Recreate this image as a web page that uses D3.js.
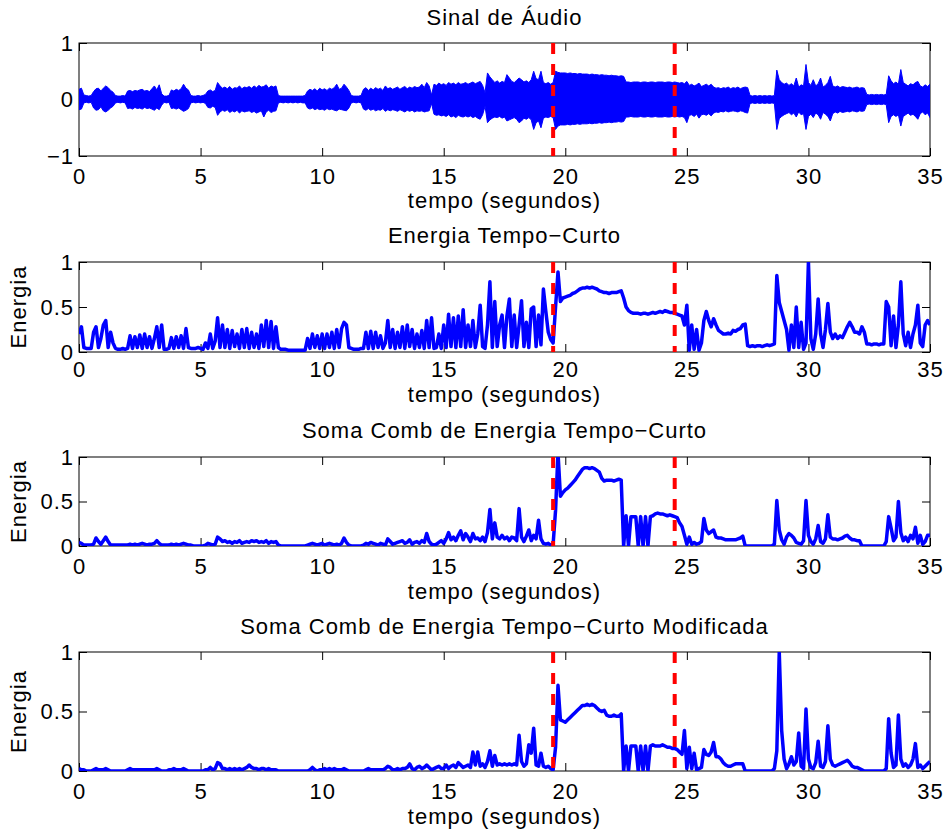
<!DOCTYPE html>
<html>
<head>
<meta charset="utf-8">
<script src="https://cdn.jsdelivr.net/npm/d3@7/dist/d3.min.js"></script>
<style>
  html, body { margin: 0; padding: 0; background: #fff; }
  svg text { font-family: "Liberation Sans", Arial, Helvetica, sans-serif; fill: #000; }
</style>
</head>
<body>
<svg id="chart" width="946" height="832"></svg>
<script>
// ---------------- DATA ----------------
const xTicks = [0, 5, 10, 15, 20, 25, 30, 35];
const yTicksAudio = [-1, 0, 1];
const yTicksEnergy = [0, 0.5, 1];
const markerTimes = [19.5, 24.5];
const titles = [
  "Sinal de Áudio",
  "Energia Tempo\u2212Curto",
  "Soma Comb de Energia Tempo\u2212Curto",
  "Soma Comb de Energia Tempo\u2212Curto Modificada"
];
const xLabel = "tempo (segundos)";
const yLabel = "Energia";

// all series sampled every 0.1 s from 0 to 35 s
const sampleStep = 0.1;

// audio signal envelope: upper and lower amplitude
const audioHi = [
0.18,0.20,0.08,0.07,0.06,0.07,0.14,0.19,0.20,0.15,
0.20,0.24,0.21,0.16,0.13,0.07,0.06,0.06,0.07,0.06,
0.15,0.16,0.14,0.16,0.15,0.17,0.18,0.15,0.16,0.14,
0.19,0.24,0.17,0.26,0.10,0.06,0.06,0.07,0.17,0.15,
0.18,0.16,0.19,0.27,0.20,0.17,0.07,0.06,0.06,0.07,
0.06,0.07,0.09,0.15,0.17,0.14,0.16,0.30,0.24,0.20,
0.22,0.19,0.23,0.18,0.21,0.20,0.24,0.19,0.22,0.21,
0.23,0.20,0.24,0.21,0.25,0.22,0.23,0.26,0.20,0.24,
0.22,0.24,0.07,0.06,0.06,0.06,0.06,0.06,0.06,0.06,
0.06,0.06,0.06,0.07,0.15,0.18,0.16,0.19,0.15,0.20,
0.17,0.19,0.16,0.20,0.18,0.21,0.27,0.18,0.20,0.27,
0.22,0.16,0.07,0.06,0.06,0.06,0.07,0.18,0.21,0.16,
0.20,0.17,0.21,0.18,0.20,0.16,0.24,0.19,0.21,0.18,
0.20,0.22,0.18,0.21,0.23,0.19,0.22,0.20,0.23,0.21,
0.22,0.27,0.21,0.30,0.24,0.08,0.27,0.25,0.29,0.26,
0.28,0.25,0.30,0.27,0.29,0.26,0.30,0.27,0.28,0.30,
0.27,0.29,0.31,0.28,0.30,0.32,0.25,0.12,0.47,0.40,
0.35,0.30,0.33,0.29,0.32,0.30,0.44,0.38,0.32,0.30,
0.34,0.38,0.35,0.31,0.33,0.30,0.35,0.50,0.37,0.35,
0.50,0.30,0.28,0.30,0.27,0.30,0.50,0.48,0.47,0.47,
0.47,0.46,0.47,0.46,0.46,0.45,0.46,0.45,0.45,0.45,
0.44,0.45,0.44,0.44,0.43,0.44,0.43,0.43,0.42,0.43,
0.42,0.42,0.41,0.42,0.41,0.31,0.31,0.30,0.31,0.31,
0.31,0.30,0.31,0.31,0.30,0.31,0.31,0.30,0.31,0.31,
0.31,0.30,0.31,0.31,0.30,0.31,0.30,0.29,0.30,0.28,
0.32,0.25,0.27,0.24,0.26,0.29,0.23,0.25,0.27,0.24,
0.27,0.22,0.20,0.21,0.19,0.21,0.20,0.22,0.19,0.21,
0.20,0.22,0.19,0.21,0.22,0.21,0.07,0.06,0.07,0.06,
0.07,0.06,0.07,0.06,0.07,0.06,0.07,0.52,0.35,0.30,
0.27,0.29,0.25,0.28,0.24,0.38,0.22,0.26,0.24,0.62,
0.30,0.25,0.35,0.24,0.28,0.38,0.22,0.25,0.30,0.41,
0.24,0.22,0.24,0.21,0.23,0.22,0.21,0.22,0.20,0.21,
0.22,0.20,0.21,0.20,0.09,0.08,0.09,0.08,0.09,0.08,
0.09,0.08,0.09,0.42,0.33,0.28,0.31,0.27,0.53,0.30,
0.27,0.24,0.28,0.26,0.30,0.32,0.24,0.22,0.26,0.23,
0.27];
const audioLo = [
-0.18,-0.17,-0.06,-0.05,-0.06,-0.05,-0.15,-0.19,-0.18,-0.13,
-0.20,-0.22,-0.19,-0.15,-0.12,-0.06,-0.05,-0.06,-0.05,-0.06,
-0.16,-0.15,-0.17,-0.14,-0.16,-0.15,-0.17,-0.14,-0.16,-0.15,
-0.17,-0.19,-0.15,-0.18,-0.10,-0.05,-0.06,-0.05,-0.16,-0.15,
-0.17,-0.15,-0.18,-0.21,-0.19,-0.16,-0.06,-0.05,-0.06,-0.05,
-0.06,-0.05,-0.07,-0.14,-0.15,-0.12,-0.14,-0.28,-0.22,-0.19,
-0.21,-0.18,-0.23,-0.20,-0.22,-0.19,-0.24,-0.20,-0.22,-0.21,
-0.20,-0.23,-0.21,-0.24,-0.22,-0.20,-0.31,-0.22,-0.19,-0.23,
-0.21,-0.20,-0.06,-0.05,-0.06,-0.05,-0.06,-0.05,-0.06,-0.05,
-0.06,-0.05,-0.06,-0.06,-0.15,-0.17,-0.15,-0.18,-0.16,-0.18,
-0.17,-0.19,-0.16,-0.18,-0.17,-0.19,-0.20,-0.17,-0.18,-0.19,
-0.20,-0.15,-0.06,-0.05,-0.06,-0.05,-0.06,-0.17,-0.19,-0.16,
-0.19,-0.17,-0.20,-0.18,-0.19,-0.16,-0.21,-0.18,-0.20,-0.18,
-0.19,-0.21,-0.18,-0.20,-0.22,-0.19,-0.21,-0.19,-0.22,-0.20,
-0.21,-0.20,-0.22,-0.21,-0.20,-0.07,-0.26,-0.28,-0.27,-0.29,
-0.28,-0.30,-0.27,-0.31,-0.29,-0.32,-0.28,-0.30,-0.31,-0.29,
-0.31,-0.29,-0.32,-0.30,-0.33,-0.35,-0.27,-0.12,-0.41,-0.36,
-0.33,-0.31,-0.32,-0.30,-0.33,-0.31,-0.38,-0.36,-0.34,-0.32,
-0.35,-0.41,-0.38,-0.33,-0.35,-0.32,-0.36,-0.53,-0.41,-0.38,
-0.50,-0.33,-0.31,-0.32,-0.30,-0.32,-0.53,-0.47,-0.45,-0.45,
-0.45,-0.44,-0.45,-0.44,-0.44,-0.43,-0.44,-0.43,-0.43,-0.43,
-0.42,-0.43,-0.42,-0.42,-0.41,-0.42,-0.41,-0.41,-0.40,-0.41,
-0.40,-0.40,-0.39,-0.40,-0.39,-0.31,-0.31,-0.30,-0.31,-0.31,
-0.31,-0.30,-0.31,-0.31,-0.30,-0.31,-0.31,-0.30,-0.31,-0.31,
-0.31,-0.30,-0.31,-0.31,-0.30,-0.31,-0.30,-0.31,-0.30,-0.32,
-0.41,-0.28,-0.27,-0.30,-0.26,-0.33,-0.27,-0.26,-0.28,-0.25,
-0.29,-0.24,-0.22,-0.23,-0.21,-0.22,-0.20,-0.22,-0.21,-0.20,
-0.21,-0.22,-0.20,-0.21,-0.23,-0.24,-0.07,-0.06,-0.07,-0.06,
-0.07,-0.06,-0.07,-0.06,-0.07,-0.06,-0.07,-0.53,-0.34,-0.30,
-0.27,-0.25,-0.23,-0.27,-0.24,-0.31,-0.22,-0.27,-0.25,-0.53,
-0.30,-0.26,-0.32,-0.24,-0.27,-0.35,-0.23,-0.26,-0.30,-0.38,
-0.25,-0.22,-0.24,-0.21,-0.23,-0.22,-0.21,-0.22,-0.20,-0.21,
-0.22,-0.20,-0.21,-0.20,-0.09,-0.08,-0.09,-0.08,-0.09,-0.08,
-0.09,-0.08,-0.09,-0.41,-0.30,-0.27,-0.30,-0.27,-0.47,-0.30,
-0.27,-0.24,-0.28,-0.26,-0.30,-0.35,-0.25,-0.22,-0.27,-0.24,
-0.32];

const energyShort = [
0.20,0.28,0.05,0.04,0.04,0.04,0.22,0.28,0.05,0.15,
0.30,0.35,0.05,0.22,0.10,0.04,0.03,0.03,0.04,0.03,
0.04,0.18,0.04,0.17,0.05,0.19,0.04,0.20,0.05,0.17,
0.04,0.15,0.28,0.05,0.30,0.03,0.03,0.04,0.16,0.04,
0.17,0.05,0.18,0.04,0.26,0.05,0.04,0.04,0.04,0.05,
0.04,0.03,0.10,0.04,0.20,0.04,0.12,0.38,0.05,0.30,
0.05,0.25,0.04,0.24,0.06,0.20,0.04,0.25,0.05,0.26,
0.04,0.22,0.05,0.20,0.04,0.30,0.06,0.35,0.05,0.34,
0.04,0.28,0.05,0.03,0.03,0.03,0.02,0.02,0.02,0.02,
0.02,0.02,0.02,0.02,0.15,0.04,0.20,0.05,0.18,0.04,
0.20,0.04,0.20,0.05,0.22,0.04,0.25,0.05,0.26,0.33,
0.30,0.05,0.04,0.03,0.03,0.03,0.04,0.04,0.22,0.04,
0.23,0.04,0.22,0.05,0.18,0.04,0.10,0.35,0.05,0.25,
0.04,0.22,0.05,0.28,0.04,0.30,0.06,0.25,0.04,0.20,
0.05,0.24,0.04,0.35,0.05,0.38,0.04,0.05,0.20,0.04,
0.30,0.05,0.42,0.06,0.38,0.05,0.40,0.06,0.47,0.05,
0.30,0.06,0.35,0.05,0.20,0.52,0.06,0.04,0.30,0.78,
0.05,0.56,0.06,0.30,0.41,0.05,0.40,0.59,0.06,0.41,
0.05,0.30,0.57,0.06,0.33,0.05,0.48,0.50,0.06,0.41,
0.08,0.70,0.45,0.22,0.14,0.10,0.50,0.89,0.56,0.60,
0.61,0.62,0.63,0.65,0.66,0.68,0.70,0.71,0.71,0.72,
0.71,0.72,0.71,0.70,0.68,0.67,0.66,0.66,0.65,0.66,
0.66,0.66,0.67,0.68,0.60,0.50,0.46,0.44,0.43,0.43,
0.43,0.42,0.43,0.43,0.42,0.43,0.44,0.43,0.44,0.45,
0.44,0.46,0.45,0.44,0.44,0.43,0.42,0.41,0.40,0.30,
0.52,0.02,0.30,0.03,0.25,0.02,0.10,0.35,0.45,0.35,
0.28,0.37,0.30,0.24,0.22,0.20,0.20,0.21,0.20,0.24,
0.23,0.25,0.26,0.30,0.31,0.07,0.06,0.07,0.06,0.07,
0.07,0.06,0.07,0.08,0.07,0.08,0.09,0.85,0.55,0.45,
0.35,0.25,0.02,0.30,0.05,0.50,0.05,0.33,0.03,0.10,
1.00,0.15,0.03,0.20,0.59,0.20,0.05,0.25,0.54,0.22,
0.15,0.20,0.15,0.18,0.16,0.22,0.28,0.33,0.28,0.22,
0.22,0.20,0.28,0.22,0.09,0.09,0.08,0.09,0.09,0.08,
0.09,0.09,0.56,0.50,0.07,0.40,0.05,0.30,0.78,0.20,
0.07,0.22,0.05,0.20,0.30,0.52,0.10,0.06,0.30,0.35,
0.30];

const combSum = [
0.04,0.03,0.01,0.01,0.01,0.01,0.02,0.09,0.05,0.02,
0.06,0.10,0.05,0.01,0.01,0.01,0.01,0.01,0.01,0.01,
0.01,0.02,0.01,0.02,0.01,0.02,0.03,0.02,0.01,0.02,
0.02,0.03,0.06,0.03,0.01,0.01,0.01,0.01,0.02,0.01,
0.02,0.01,0.02,0.03,0.02,0.01,0.01,0.00,0.00,0.00,
0.00,0.00,0.01,0.03,0.02,0.01,0.02,0.10,0.08,0.05,
0.06,0.04,0.05,0.03,0.05,0.04,0.06,0.03,0.04,0.05,
0.04,0.06,0.05,0.06,0.04,0.05,0.04,0.06,0.03,0.05,
0.04,0.05,0.01,0.00,0.00,0.00,0.00,0.00,0.00,0.00,
0.00,0.00,0.00,0.00,0.01,0.02,0.03,0.02,0.01,0.02,
0.03,0.01,0.02,0.03,0.02,0.01,0.02,0.01,0.03,0.09,
0.04,0.01,0.00,0.00,0.00,0.00,0.00,0.01,0.03,0.02,
0.04,0.03,0.02,0.01,0.03,0.02,0.01,0.08,0.05,0.02,
0.03,0.04,0.05,0.06,0.03,0.04,0.07,0.02,0.04,0.05,
0.03,0.06,0.04,0.14,0.05,0.02,0.01,0.02,0.04,0.06,
0.03,0.08,0.15,0.07,0.10,0.06,0.12,0.17,0.07,0.14,
0.10,0.05,0.14,0.08,0.09,0.06,0.10,0.05,0.15,0.41,
0.08,0.26,0.10,0.08,0.12,0.08,0.10,0.06,0.10,0.09,
0.06,0.42,0.10,0.05,0.11,0.18,0.06,0.12,0.08,0.29,
0.08,0.03,0.02,0.03,0.01,0.02,0.40,1.05,0.56,0.60,
0.63,0.65,0.68,0.71,0.74,0.78,0.82,0.86,0.88,0.88,
0.87,0.88,0.87,0.85,0.83,0.76,0.73,0.74,0.74,0.74,
0.73,0.74,0.75,0.74,0.00,0.34,0.00,0.33,0.33,0.33,
0.00,0.33,0.00,0.33,0.00,0.33,0.34,0.36,0.37,0.36,
0.36,0.35,0.34,0.35,0.34,0.33,0.32,0.26,0.22,0.12,
0.02,0.10,0.02,0.04,0.02,0.03,0.05,0.31,0.18,0.14,
0.16,0.18,0.10,0.09,0.09,0.08,0.07,0.07,0.07,0.07,
0.07,0.08,0.09,0.11,0.00,0.00,0.00,0.00,0.00,0.00,
0.00,0.00,0.00,0.00,0.00,0.00,0.02,0.51,0.18,0.07,
0.02,0.10,0.14,0.12,0.09,0.04,0.03,0.02,0.06,0.51,
0.12,0.05,0.02,0.08,0.23,0.05,0.03,0.08,0.35,0.10,
0.08,0.08,0.07,0.08,0.09,0.11,0.12,0.09,0.07,0.07,
0.06,0.06,0.00,0.00,0.00,0.00,0.00,0.00,0.00,0.00,
0.00,0.00,0.05,0.33,0.20,0.06,0.10,0.50,0.15,0.06,
0.10,0.05,0.12,0.08,0.21,0.03,0.12,0.02,0.05,0.12,
0.12];

const combSumMod = [
0.02,0.01,0.01,0.00,0.00,0.00,0.01,0.02,0.01,0.01,
0.01,0.02,0.01,0.00,0.00,0.00,0.00,0.00,0.00,0.00,
0.01,0.02,0.01,0.01,0.01,0.01,0.01,0.01,0.01,0.01,
0.01,0.01,0.02,0.01,0.00,0.00,0.00,0.01,0.01,0.02,
0.01,0.01,0.01,0.02,0.01,0.00,0.00,0.00,0.00,0.00,
0.00,0.00,0.01,0.01,0.03,0.01,0.02,0.07,0.06,0.02,
0.02,0.01,0.02,0.01,0.02,0.01,0.02,0.01,0.02,0.03,
0.05,0.03,0.02,0.02,0.01,0.02,0.02,0.01,0.02,0.01,
0.01,0.01,0.00,0.00,0.00,0.00,0.00,0.00,0.00,0.00,
0.00,0.00,0.00,0.00,0.00,0.01,0.03,0.01,0.00,0.01,
0.01,0.02,0.01,0.02,0.01,0.02,0.01,0.01,0.01,0.02,
0.01,0.00,0.00,0.00,0.00,0.00,0.00,0.00,0.01,0.02,
0.01,0.01,0.01,0.01,0.01,0.01,0.02,0.04,0.03,0.01,
0.01,0.02,0.01,0.02,0.02,0.03,0.06,0.02,0.01,0.03,
0.04,0.02,0.03,0.05,0.03,0.01,0.02,0.03,0.04,0.02,
0.02,0.05,0.02,0.04,0.05,0.03,0.07,0.05,0.03,0.04,
0.05,0.03,0.16,0.05,0.16,0.04,0.06,0.03,0.08,0.17,
0.04,0.13,0.05,0.06,0.05,0.06,0.05,0.06,0.05,0.06,
0.05,0.30,0.08,0.04,0.06,0.22,0.15,0.36,0.05,0.04,
0.15,0.04,0.03,0.04,0.02,0.01,0.20,0.72,0.43,0.42,
0.41,0.43,0.45,0.47,0.49,0.51,0.53,0.55,0.55,0.56,
0.55,0.56,0.55,0.53,0.51,0.50,0.51,0.47,0.46,0.46,
0.47,0.46,0.46,0.48,0.00,0.21,0.00,0.21,0.21,0.21,
0.00,0.21,0.00,0.21,0.00,0.21,0.22,0.21,0.21,0.21,
0.22,0.21,0.20,0.20,0.19,0.19,0.18,0.16,0.14,0.34,
0.02,0.20,0.02,0.15,0.01,0.02,0.03,0.18,0.14,0.13,
0.16,0.24,0.12,0.12,0.10,0.07,0.05,0.04,0.04,0.05,
0.06,0.06,0.06,0.06,0.00,0.00,0.00,0.00,0.00,0.00,
0.00,0.00,0.00,0.00,0.00,0.00,0.02,0.17,1.00,0.34,
0.10,0.02,0.06,0.12,0.05,0.08,0.32,0.04,0.02,0.52,
0.10,0.03,0.02,0.07,0.25,0.04,0.03,0.08,0.38,0.10,
0.05,0.04,0.05,0.06,0.07,0.08,0.09,0.07,0.04,0.03,
0.03,0.02,0.01,0.00,0.00,0.00,0.00,0.00,0.00,0.00,
0.00,0.00,0.02,0.44,0.15,0.03,0.05,0.47,0.10,0.04,
0.06,0.03,0.05,0.10,0.23,0.03,0.05,0.02,0.04,0.06,
0.08];

// ---------------- LAYOUT ----------------
const W = 946, H = 832;
const left = 79, right = 930;
const panels = [
  { top: 43,  bottom: 156, domain: [-1, 1], yTicks: yTicksAudio,  ylabel: null,   tOff: 18, xtOff: 28, xlOff: 52 },
  { top: 262, bottom: 352, domain: [0, 1],  yTicks: yTicksEnergy, ylabel: yLabel, tOff: 19, xtOff: 25, xlOff: 50, series: energyShort },
  { top: 457, bottom: 546, domain: [0, 1],  yTicks: yTicksEnergy, ylabel: yLabel, tOff: 19, xtOff: 28, xlOff: 53, series: combSum },
  { top: 652, bottom: 771, domain: [0, 1],  yTicks: yTicksEnergy, ylabel: yLabel, tOff: 18, xtOff: 28, xlOff: 53, series: combSumMod }
];
const FONT = 22, LS = 1;
const blue = "#0000ff", red = "#ff0000";

const svg = d3.select("#chart");
svg.append("rect").attr("width", W).attr("height", H).attr("fill", "#fff");

const x = d3.scaleLinear().domain([0, 35]).range([left, right]);
const fmt = d3.format("~g");
const tOf = k => k * sampleStep;

function txt(sel) {
  return sel.attr("font-size", FONT).attr("letter-spacing", LS)
    .style("font-family", '"Liberation Sans", Arial, Helvetica, sans-serif').attr("fill", "#000");
}

panels.forEach((p, i) => {
  const y = d3.scaleLinear().domain(p.domain).range([p.bottom, p.top]);
  const g = svg.append("g");
  const clipId = "clip" + i;
  svg.append("defs").append("clipPath").attr("id", clipId)
    .append("rect").attr("x", left).attr("y", p.top)
    .attr("width", right - left).attr("height", p.bottom - p.top);

  // axes (ticks inside, MATLAB style)
  const axB = g.append("g").attr("transform", `translate(0,${p.bottom})`)
    .call(d3.axisBottom(x).tickValues(xTicks).tickFormat(fmt).tickSize(-8).tickPadding(0));
  const axT = g.append("g").attr("transform", `translate(0,${p.top})`)
    .call(d3.axisTop(x).tickValues(xTicks).tickFormat("").tickSize(-8));
  const axL = g.append("g").attr("transform", `translate(${left},0)`)
    .call(d3.axisLeft(y).tickValues(p.yTicks).tickFormat(fmt).tickSize(-8).tickPadding(6));
  const axR = g.append("g").attr("transform", `translate(${right},0)`)
    .call(d3.axisRight(y).tickValues(p.yTicks).tickFormat("").tickSize(-8));
  [axB, axT, axL, axR].forEach(a => {
    a.select(".domain").remove();
    a.selectAll("line").attr("stroke", "#000").attr("stroke-width", 1);
    txt(a.selectAll("text"));
  });
  axB.selectAll("text").attr("y", p.xtOff).attr("dy", null);
  axL.selectAll("text").attr("dx", LS);
  g.append("rect").attr("x", left).attr("y", p.top)
    .attr("width", right - left).attr("height", p.bottom - p.top)
    .attr("fill", "none").attr("stroke", "#000").attr("stroke-width", 1);

  // data
  const plot = g.append("g").attr("clip-path", `url(#${clipId})`);
  if (i === 0) {
    plot.append("path").datum(audioHi.map((h, k) => [tOf(k), h, audioLo[k]]))
      .attr("d", d3.area().x(d => x(d[0])).y0(d => y(d[2])).y1(d => y(d[1])))
      .attr("fill", blue).attr("stroke", blue).attr("stroke-width", 1);
  } else {
    plot.append("path").datum(p.series)
      .attr("d", d3.line().x((d, k) => x(tOf(k))).y(d => y(d)))
      .attr("fill", "none").attr("stroke", blue).attr("stroke-width", 3.5)
      .attr("stroke-linejoin", "round");
  }
  // event markers
  markerTimes.forEach(t => {
    plot.append("line").attr("x1", x(t)).attr("x2", x(t))
      .attr("y1", p.top).attr("y2", p.bottom)
      .attr("stroke", red).attr("stroke-width", 4).attr("stroke-dasharray", "11,10");
  });

  // texts
  txt(svg.append("text")).attr("x", (left + right) / 2).attr("y", p.top - p.tOff)
    .attr("text-anchor", "middle").text(titles[i]);
  txt(svg.append("text")).attr("x", (left + right) / 2).attr("y", p.bottom + p.xlOff)
    .attr("text-anchor", "middle").text(xLabel);
  if (p.ylabel) {
    txt(svg.append("text"))
      .attr("transform", `translate(26,${(p.top + p.bottom) / 2}) rotate(-90)`)
      .attr("text-anchor", "middle").text(p.ylabel);
  }
});
</script>
</body>
</html>
